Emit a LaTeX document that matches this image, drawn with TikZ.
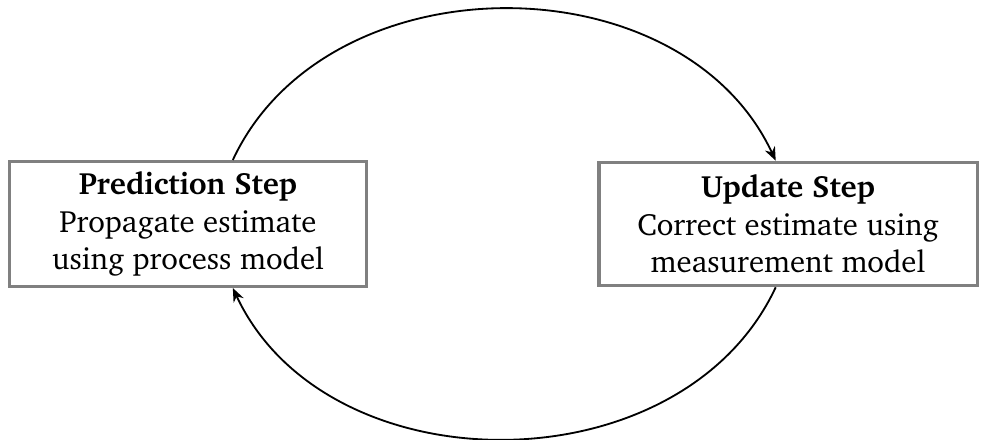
\documentclass[tikz,border=0pt]{standalone}
\usepackage[T1]{fontenc}
\usepackage{charter}
\usepackage{tikz}
\usetikzlibrary{arrows.meta, positioning}

\begin{document}
\begin{tikzpicture}[x=0.328pt, y=0.328pt, node distance=196.8pt,
    stepbox/.style={draw=gray, line width=1pt, rectangle, align=center, minimum height=40.5pt,
        font=\fontsize{10.1}{12.3}\selectfont},
    loop/.style={-{Stealth[length=4.5pt, width=3.6pt]}, semithick}]
    \useasboundingbox (0,0) rectangle (989,440);

    \node (pred) [stepbox, minimum width=116.8pt] at (188,216) {\textbf{Prediction Step}\\Propagate estimate\\using process model};
    \node (update) [stepbox, right of=pred, minimum width=124pt] {\textbf{Update Step}\\Correct estimate using\\measurement model};

    \draw [loop] (pred.55) .. controls +(65:73pt) and +(115:73pt) .. (update.101);
    \draw [loop] (update.259) .. controls +(245:73pt) and +(295:73pt) .. (pred.305);
\end{tikzpicture}
\end{document}
